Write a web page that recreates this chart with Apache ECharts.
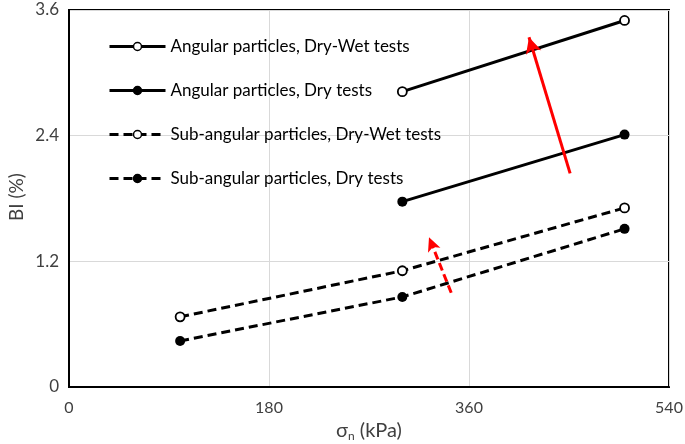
<!DOCTYPE html>
<html><head><meta charset="utf-8">
<script src="https://cdn.jsdelivr.net/npm/echarts@6/dist/echarts.min.js"></script>
<style>html,body{margin:0;padding:0;background:#fff}#c{width:685px;height:444px}</style>
</head><body><div id="c"></div>
<script>
const seriesNames = ['Angular particles, Dry-Wet tests','Angular particles, Dry tests','Sub-angular particles, Dry-Wet tests','Sub-angular particles, Dry tests'];
const angDryWet = [[300, 2.82], [500, 3.50]];
const angDry = [[300, 1.77], [500, 2.41]];
const subDryWet = [[100, 0.67], [300, 1.11], [500, 1.71]];
const subDry = [[100, 0.44], [300, 0.86], [500, 1.51]];
const bigArrow = [[451, 2.04], [414, 3.34]];
const smallArrow = [[344, 0.90], [324, 1.43]];
const xTicks = [0, 180, 360, 540];
const yTicks = [0, 1.2, 2.4, 3.6];
const xName = ['σ', 'n', ' (kPa)'];
const yName = 'BI (%)';

const font = 'Lato, "Open Sans", sans-serif';
const chart = echarts.init(document.getElementById('c'));
function mk(name, data, dashed, filled, arrow) {
  const s = {
    name, type: 'line', data,
    symbol: 'circle', symbolSize: filled ? 10 : 9,
    showSymbol: true,
    lineStyle: { color: '#000', width: 3, type: dashed ? [9, 5] : 'solid' },
    itemStyle: { color: filled ? '#000' : '#fff', borderColor: '#000', borderWidth: filled ? 0 : 1.8 },
    emphasis: { disabled: true },
    z: 3
  };
  if (arrow) {
    s.markLine = {
      silent: true, symbol: ['none', 'arrow'], symbolSize: arrow.size,
      label: { show: false },
      lineStyle: { color: '#f00', width: 3, type: arrow.dashed ? [8, 4] : 'solid' },
      data: [[{ coord: arrow.pts[0] }, { coord: arrow.pts[1] }]]
    };
  }
  return s;
}
chart.setOption({
  animation: false,
  grid: { left: 69, right: 16, top: 10, bottom: 57, show: true, borderColor: '#000', borderWidth: 2,
          containLabel: false, outerBoundsMode: 'none' },
  legend: {
    orient: 'vertical', left: 103, top: 33, itemWidth: 56, itemHeight: 10, itemGap: 27,
    itemStyle: { borderWidth: 1.5 },
    lineStyle: { width: 3 },
    textStyle: { fontFamily: font, fontSize: 17, color: '#000' },
    data: seriesNames
  },
  graphic: [
    { type: 'text', x: 369, y: 431, silent: true,
      style: { text: '{s|' + xName[0] + '}{sub|' + xName[1] + '}{s|' + xName[2] + '}',
        align: 'center', verticalAlign: 'middle',
        rich: {
          s: { fontFamily: font, fontSize: 20, fill: '#404040' },
          sub: { fontFamily: font, fontSize: 12, fill: '#404040', padding: [10, 0, 0, 0] }
        } } },
    { type: 'text', x: 17, y: 197, rotation: Math.PI / 2, silent: true,
      style: { text: yName, fontFamily: font, fontSize: 19, fill: '#404040', align: 'center', verticalAlign: 'middle' } }
  ],
  xAxis: {
    type: 'value', min: xTicks[0], max: xTicks[xTicks.length - 1], interval: 180,
    axisLine: { show: true, lineStyle: { color: '#000', width: 2 } },
    axisTick: { show: false },
    splitLine: { show: true, lineStyle: { color: '#d9d9d9', width: 1 } },
    axisLabel: { fontFamily: font, fontSize: 16, color: '#404040', margin: 13 }
  },
  yAxis: {
    type: 'value', min: yTicks[0], max: yTicks[yTicks.length - 1], interval: 1.2,
    axisLine: { show: true, lineStyle: { color: '#000', width: 2 } },
    axisTick: { show: false },
    splitLine: { show: true, lineStyle: { color: '#d9d9d9', width: 1 } },
    axisLabel: { fontFamily: font, fontSize: 17, color: '#404040', margin: 10, formatter: v => String(Math.round(v * 10) / 10) }
  },
  series: [
    mk(seriesNames[0], angDryWet, false, false, { pts: bigArrow, size: [12, 16], dashed: false }),
    mk(seriesNames[1], angDry, false, true),
    mk(seriesNames[2], subDryWet, true, false, { pts: smallArrow, size: [10, 14], dashed: true }),
    mk(seriesNames[3], subDry, true, true)
  ]
});
</script></body></html>
